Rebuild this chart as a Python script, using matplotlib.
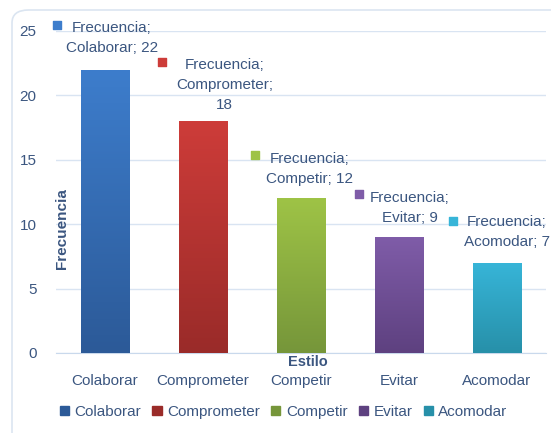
import matplotlib.pyplot as plt
import numpy as np
from matplotlib.colors import LinearSegmentedColormap
from matplotlib.patches import FancyBboxPatch, Rectangle

categories = ["Colaborar", "Comprometer", "Competir", "Evitar", "Acomodar"]
values = [22, 18, 12, 9, 7]
top_colors = ["#3d7dcc", "#cd3c39", "#9ec346", "#7f5ca8", "#37b5d8"]
bottom_colors = ["#2c5a98", "#9a2b29", "#76963a", "#5e4180", "#2790a9"]
data_labels = ["Frecuencia;\nColaborar; 22", "Frecuencia;\nComprometer;\n18",
               "Frecuencia;\nCompetir; 12", "Frecuencia;\nEvitar; 9",
               "Frecuencia;\nAcomodar; 7"]

TXT = "#3b5680"
FS = 11
plt.rcParams["font.family"] = ["Liberation Sans", "DejaVu Sans"]

fig = plt.figure(figsize=(5.51, 4.33), dpi=100)
ax = fig.add_axes([56 / 551, 80 / 433, 490 / 551, 322 / 433])

# faint chart border
fig.patches.append(FancyBboxPatch((12 / 551, -0.1), 1.2, 1.1 - 10 / 433,
                                  boxstyle="round,pad=0,rounding_size=0.03",
                                  transform=fig.transFigure, fill=False,
                                  edgecolor="#dbe5f1", linewidth=1.2))

width = 0.5
grad = np.linspace(0, 1, 100).reshape(-1, 1)
for i, (v, ct, cb) in enumerate(zip(values, top_colors, bottom_colors)):
    cmap = LinearSegmentedColormap.from_list(f"g{i}", [cb, ct])
    im = ax.imshow(grad, cmap=cmap, origin="lower", aspect="auto",
                   extent=(i - width / 2, i + width / 2, 0, v), zorder=3)
    r = Rectangle((i - width / 2, 0), width, v, transform=ax.transData,
                  facecolor="none", edgecolor="none")
    ax.add_patch(r)
    im.set_clip_path(r)

ax.set_xlim(-0.5, len(categories) - 0.5)
ax.set_ylim(0, 25)
ax.set_yticks([0, 5, 10, 15, 20, 25])
ax.set_xticks(range(len(categories)))
ax.set_xticklabels(categories)
ax.tick_params(axis="both", length=0, labelcolor=TXT, labelsize=FS)
ax.tick_params(axis="x", pad=15)
ax.tick_params(axis="y", pad=14)
ax.grid(axis="y", color="#d9e4f2", linewidth=1.0, zorder=0)
for s in ["left", "right", "top"]:
    ax.spines[s].set_visible(False)
ax.spines["bottom"].set_color("#c9d9ec")
ax.set_facecolor("none")

# data labels with legend keys
label_pos = [(0.07, 24.42), (1.22, 20.8), (2.09, 14.25), (3.11, 11.26), (4.10, 9.39)]
key_pos = [(-0.49, 25.47), (0.58, 22.6), (1.53, 15.37), (2.59, 12.34), (3.55, 10.25)]
for i, (lab, (lx, ly), (kx, ky)) in enumerate(zip(data_labels, label_pos, key_pos)):
    ax.text(lx, ly, lab, ha="center", va="center", color=TXT, fontsize=FS,
            linespacing=1.55, clip_on=False, zorder=5)
    ax.scatter([kx], [ky], marker="s", s=33, color=top_colors[i], clip_on=False, zorder=5)

ax.text(-0.44, 9.7, "Frecuencia", rotation=90, ha="center", va="center",
        fontsize=11, fontweight="bold", color=TXT, zorder=6)
ax.text(2.07, -0.7, "Estilo", ha="center", va="center", fontsize=10.5,
        fontweight="bold", color=TXT, zorder=6)

handles = [Rectangle((0, 0), 1, 1, color=c) for c in bottom_colors]
fig.legend(handles, categories, loc="center left", bbox_to_anchor=(46 / 551, 1 - 412 / 433),
           ncol=5, frameon=False, fontsize=FS, labelcolor=TXT, handlelength=0.6,
           handleheight=0.6, handletextpad=0.35, columnspacing=0.75)

fig.savefig("out.png", dpi=100, facecolor="white")
